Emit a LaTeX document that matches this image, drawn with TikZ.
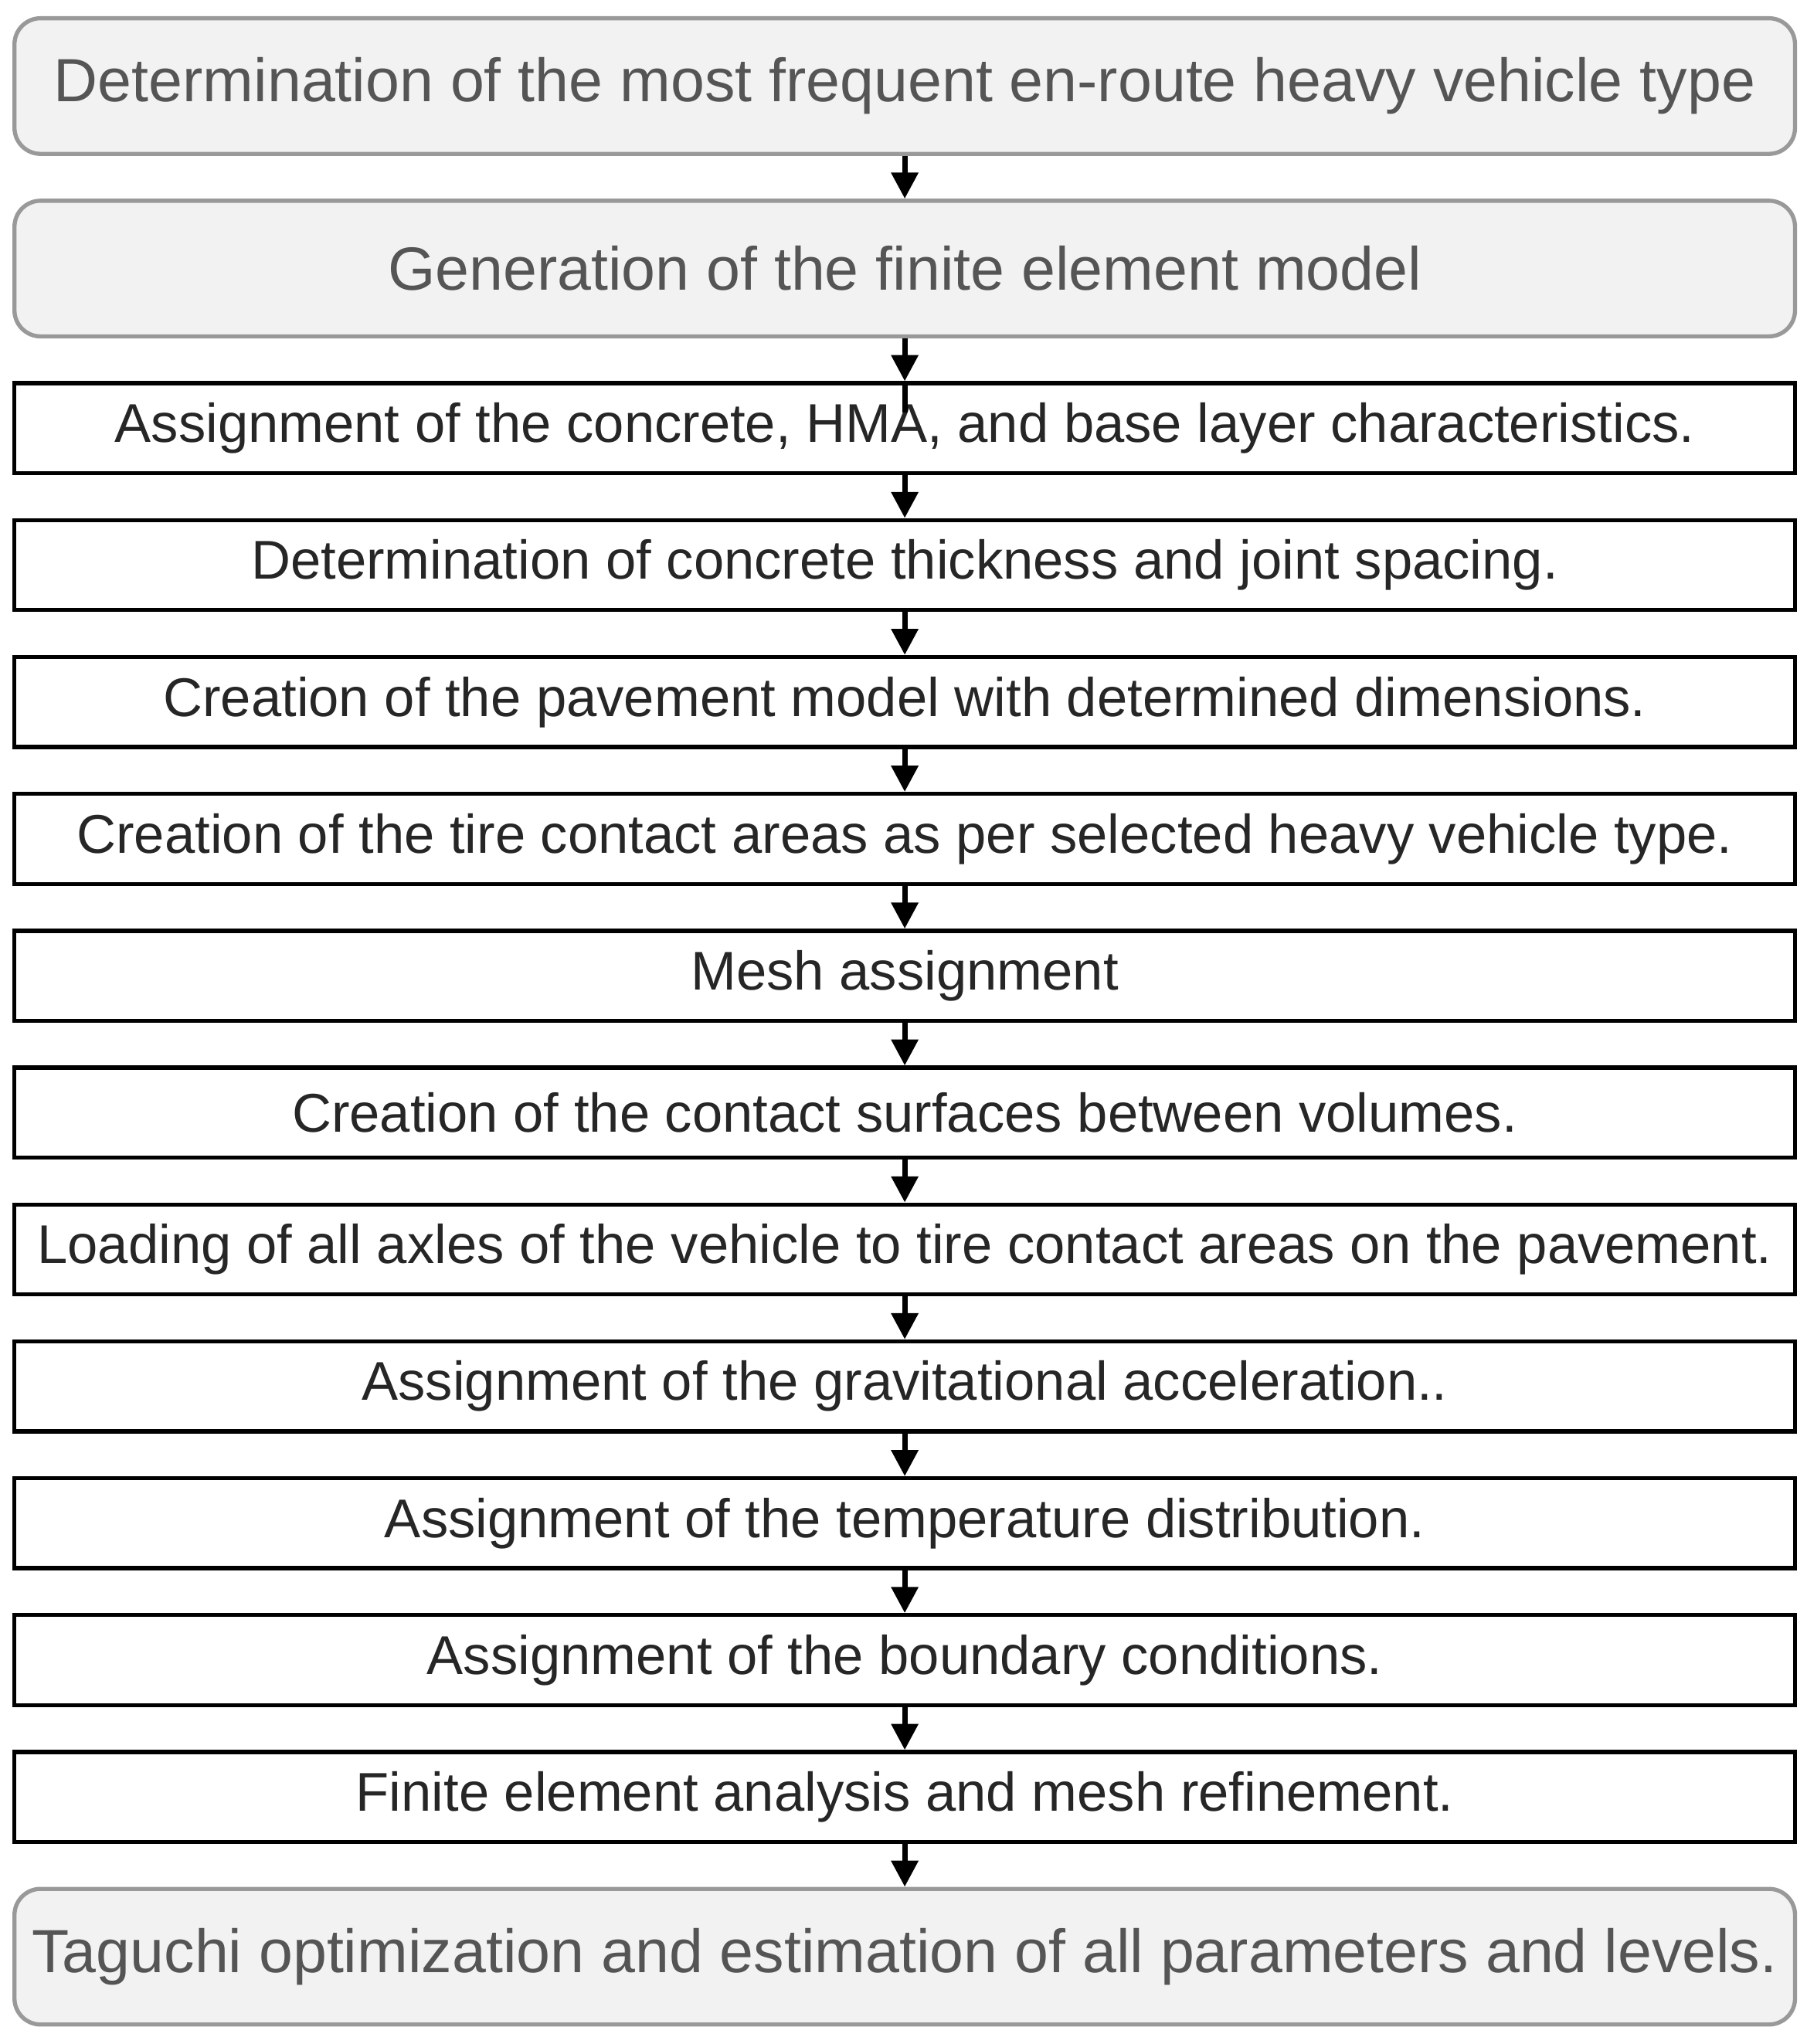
\documentclass[tikz,border=0pt]{standalone}
\usepackage{fontspec}
\setmainfont{Liberation Sans}
\usetikzlibrary{arrows.meta}
\definecolor{boxgray}{HTML}{F2F2F2}
\definecolor{txtgray}{HTML}{555555}
\begin{document}
\begin{tikzpicture}[x=0.01cm,y=-0.01cm,
                    task/.style={draw=black,line width=0.9pt,minimum width=13.65cm,minimum height=0.69cm,
                                 inner sep=0pt,font=\fontsize{11.9}{13}\selectfont,text=black!85},
                    stage/.style={draw=gray!80,fill=boxgray,rounded corners=0.2cm,line width=0.9pt,
                                  minimum width=13.65cm,minimum height=1.04cm,inner sep=0pt,
                                  font=\fontsize{13.3}{15}\selectfont,text=txtgray},
                    flow/.style={-{Triangle[length=0.2cm,width=0.2cm]},line width=1.2pt}]
    \useasboundingbox (0,0) rectangle (1386,1568);
    % stages
    \node[stage] (T) at (694,66) {Determination of the most frequent en-route heavy vehicle type};
    \node[stage] (G) at (694,206) {Generation of the finite element model};
    % tasks
    \node[task] (s1) at (694,328.5) {Assignment of the concrete, HMA, and base layer characteristics.};
    \node[task] (s2) at (694,433.5) {Determination of concrete thickness and joint spacing.};
    \node[task] (s3) at (694,538.5) {Creation of the pavement model with determined dimensions.};
    \node[task] (s4) at (694,643.5) {Creation of the tire contact areas as per selected heavy vehicle type.};
    \node[task] (s5) at (694,748.5) {Mesh assignment};
    \node[task] (s6) at (694,853.5) {Creation of the contact surfaces between volumes.};
    \node[task] (s7) at (694,958.5) {Loading of all axles of the vehicle to tire contact areas on the pavement.};
    \node[task] (s8) at (694,1063.5) {Assignment of the gravitational acceleration..};
    \node[task] (s9) at (694,1168.5) {Assignment of the temperature distribution.};
    \node[task] (s10) at (694,1273.5) {Assignment of the boundary conditions.};
    \node[task] (s11) at (694,1378.5) {Finite element analysis and mesh refinement.};
    \node[stage] (O) at (694,1501) {Taguchi optimization and estimation of all parameters and levels.};
    %
    \draw[flow] (T) -- (G);
    \draw[flow] (G) -- (s1);
    \draw[line width=1.2pt] (s1.north) -- ++(0,24);
    \foreach \a/\b in {s1/s2,s2/s3,s3/s4,s4/s5,s5/s6,s6/s7,s7/s8,s8/s9,s9/s10,s10/s11,s11/O}
        \draw[flow] (\a) -- (\b);
\end{tikzpicture}
\end{document}
